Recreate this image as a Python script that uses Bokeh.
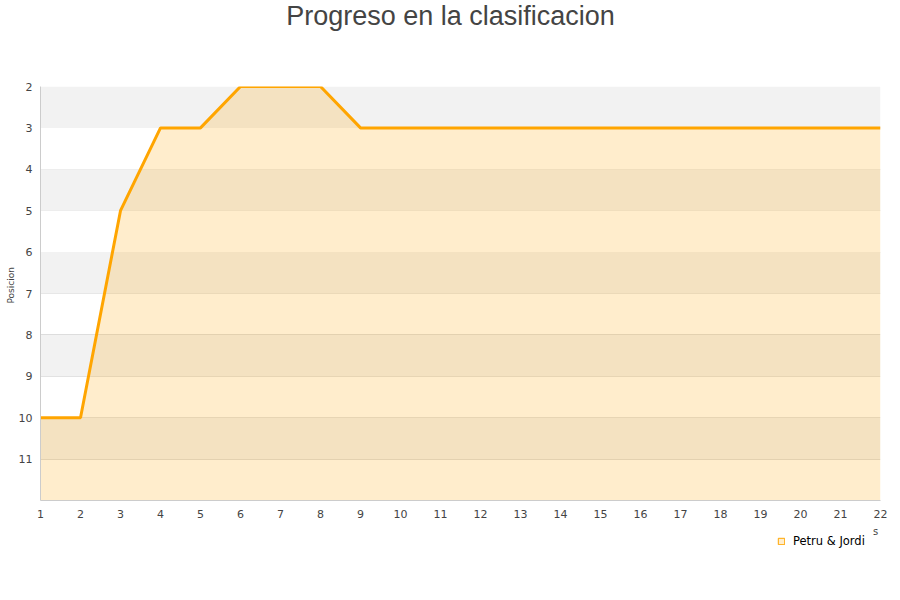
import math
from bokeh.plotting import figure
from bokeh.layouts import column, row
from bokeh.models import (ColumnDataSource, Range1d, FixedTicker, Legend, LegendItem,
                          Label, BoxAnnotation)
from bokeh.embed import file_html
from bokeh.resources import INLINE

# Jornada number and league position after each round
jornadas = list(range(1, 23))
posicion = [10, 10, 5, 3, 3, 2, 2, 2, 3, 3, 3, 3, 3, 3, 3, 3, 3, 3, 3, 3, 3, 3]
equipo = "Petru & Jordi"
y_ticks = list(range(2, 12))
fondo = [12] * len(jornadas)  # area is filled down to the last position

ORANGE = "#ffa500"
TEXT = "#444444"
FONT = "DejaVu Sans"
NAN = float("nan")


def blank(width, height):
    """Axis-less strip whose data units are pixels, used for free text."""
    f = figure(width=width, height=height, output_backend="svg", toolbar_location=None,
               x_range=Range1d(0, width), y_range=Range1d(0, height),
               x_axis_location=None, y_axis_location=None, min_border=0,
               outline_line_color=None, background_fill_color="white",
               border_fill_color="white")
    f.grid.visible = False
    return f


# title strip
top = blank(900, 70)
top.add_layout(Label(x=450, y=55, text="Progreso en la clasificacion",
                     text_align="center", text_baseline="middle",
                     text_font="Liberation Sans", text_font_size="27px",
                     text_color=TEXT))

# y-axis title strip
side = blank(15, 454)
side.add_layout(Label(x=10, y=236, text="Posicion", angle=math.pi / 2,
                      text_align="center", text_baseline="middle",
                      text_font=FONT, text_font_size="9px", text_color=TEXT))

# main chart
src = ColumnDataSource(dict(x=jornadas, y=posicion, base=fondo))
p = figure(width=885, height=454, output_backend="svg", toolbar_location=None,
           x_range=Range1d(1, 22), y_range=Range1d(12, 2),
           min_border_left=25, min_border_right=20, min_border_top=16,
           min_border_bottom=24, background_fill_color="white",
           border_fill_color="white", outline_line_color=None)

p.xaxis.ticker = FixedTicker(ticks=jornadas)
p.yaxis.ticker = FixedTicker(ticks=y_ticks)
for ax in (p.xaxis[0], p.yaxis[0]):
    ax.axis_line_color = "#cccccc"
    ax.major_tick_line_color = None
    ax.minor_tick_line_color = None
    ax.major_label_text_font = FONT
    ax.major_label_text_font_size = "11px"
    ax.major_label_text_color = TEXT
p.xaxis.major_label_standoff = 3
p.yaxis.major_label_standoff = 2

# horizontal grid lines, alternating grey bands every other position
p.xgrid.grid_line_color = None
p.ygrid.grid_line_color = "#dddddd"
for y0 in y_ticks[::2]:
    p.add_layout(BoxAnnotation(top=y0, bottom=y0 + 1, fill_color="#f2f2f2",
                               fill_alpha=1.0, line_color=None, level="underlay"))

# filled area under the position line
p.varea(x="x", y1="y", y2="base", source=src, fill_color=ORANGE, fill_alpha=0.2)
p.line(x="x", y="y", source=src, line_color=ORANGE, line_width=3)

# legend strip; the swatch renderer carries no geometry of its own
bottom = blank(900, 76)
swatch = bottom.quad(left=[NAN], right=[NAN], top=[NAN], bottom=[NAN],
                     fill_color=ORANGE, fill_alpha=0.2, line_color=ORANGE,
                     line_width=1)
legend = Legend(items=[LegendItem(label=equipo, renderers=[swatch])],
                location=(777, 52), orientation="horizontal",
                glyph_width=8, glyph_height=8, label_height=12,
                label_text_font=FONT, label_text_font_size="11.5px",
                label_text_color="#000000", border_line_color=None,
                background_fill_alpha=0, padding=2, margin=0, spacing=0,
                label_standoff=8)
bottom.add_layout(legend, "center")
bottom.add_layout(Label(x=875, y=69, text="s", text_align="center",
                        text_baseline="middle", text_font=FONT,
                        text_font_size="10px", text_color=TEXT))

layout = column(top, row(side, p, spacing=0), bottom, spacing=0)
open("out.html", "w").write(file_html(layout, INLINE))
